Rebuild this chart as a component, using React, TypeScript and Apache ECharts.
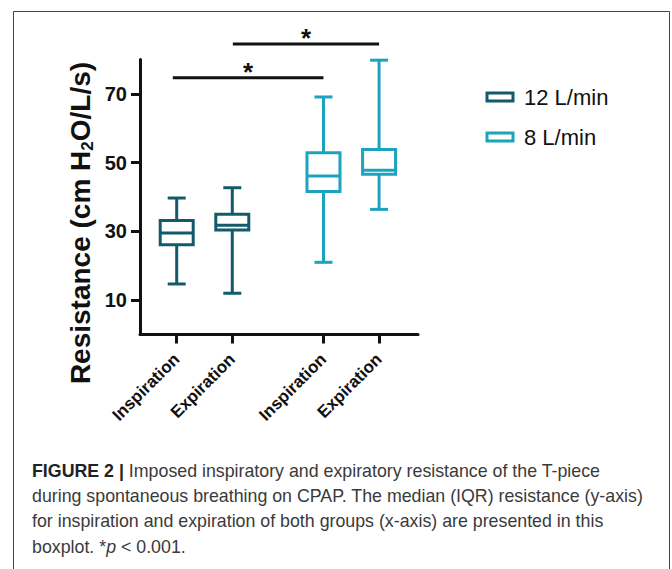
import React, { useEffect, useRef } from "react";
import * as echarts from "echarts";

// ---- data ----
const categories = ["Inspiration", "Expiration", "Inspiration", "Expiration"];
const groups = ["12 L/min", "8 L/min"];
// [min, Q1, median, Q3, max]
const stats12 = [
  [14.7, 26.1, 29.5, 33.2, 39.7],
  [12.0, 30.4, 31.8, 35.0, 42.7],
];
const stats8 = [
  [21.0, 41.6, 46.1, 52.9, 69.1],
  [36.4, 46.6, 47.8, 53.8, 79.8],
];
const yTicks = [10, 30, 50, 70];
// significance bars: [x from, x to, y level]
const sigBars = [
  [0.59, 3.3, 74.7],
  [1.67, 4.3, 84.5],
];
const sigLabel = "*";
const captionLines = [
  "{b|FIGURE 2 |} Imposed inspiratory and expiratory resistance of the T-piece",
  "during spontaneous breathing on CPAP. The median (IQR) resistance (y-axis)",
  "for inspiration and expiration of both groups (x-axis) are presented in this",
  "boxplot. *{i|p} < 0.001.",
];

// ---- layout / style ----
const xPos = [0.66, 1.66, 3.3, 4.3];
const colors = ["#135b6a", "#1ca4be"];
const FONT = "'Liberation Sans', Arial, Helvetica, sans-serif";

export default function App() {
  const ref = useRef<HTMLDivElement>(null);

  useEffect(() => {
    document.body.style.margin = "0";
    if (!ref.current) return;
    const chart = echarts.init(ref.current, null, { renderer: "svg" });

    const renderBox = (params: any, api: any) => {
      const x = api.value(0);
      const pMin = api.coord([x, api.value(1)]);
      const pQ1 = api.coord([x, api.value(2)]);
      const pMed = api.coord([x, api.value(3)]);
      const pQ3 = api.coord([x, api.value(4)]);
      const pMax = api.coord([x, api.value(5)]);
      const cx = pMed[0];
      const boxW = 33;
      const capW = 18;
      const color = api.visual("color");
      const st = { stroke: color, lineWidth: 3, fill: "none" };
      return {
        type: "group",
        children: [
          { type: "line", shape: { x1: cx, y1: pMax[1], x2: cx, y2: pQ3[1] }, style: st },
          { type: "line", shape: { x1: cx, y1: pQ1[1], x2: cx, y2: pMin[1] }, style: st },
          { type: "line", shape: { x1: cx - capW / 2, y1: pMax[1], x2: cx + capW / 2, y2: pMax[1] }, style: st },
          { type: "line", shape: { x1: cx - capW / 2, y1: pMin[1], x2: cx + capW / 2, y2: pMin[1] }, style: st },
          {
            type: "rect",
            shape: { x: cx - boxW / 2, y: pQ3[1], width: boxW, height: pQ1[1] - pQ3[1] },
            style: { stroke: color, lineWidth: 3, fill: "#fff" },
          },
          { type: "line", shape: { x1: cx - boxW / 2, y1: pMed[1], x2: cx + boxW / 2, y2: pMed[1] }, style: st },
        ],
      };
    };

    const renderSig = (params: any, api: any) => {
      const y = api.value(2);
      const p1 = api.coord([api.value(0), y]);
      const p2 = api.coord([api.value(1), y]);
      return {
        type: "group",
        children: [
          { type: "line", shape: { x1: p1[0], y1: p1[1], x2: p2[0], y2: p2[1] }, style: { stroke: "#111", lineWidth: 3 } },
          {
            type: "text",
            style: {
              text: sigLabel,
              x: (p1[0] + p2[0]) / 2,
              y: p1[1] - 6,
              fill: "#111",
              font: `bold 26px ${FONT}`,
              align: "center",
              verticalAlign: "middle",
              textAlign: "center",
              textVerticalAlign: "middle",
            },
          },
        ],
      };
    };

    const captionGraphics = captionLines.map((line, i) => ({
      type: "text",
      left: 32,
      top: 462 + i * 25.2,
      silent: true,
      style: {
        text: line,
        fill: "#3a3a3a",
        font: `17.8px ${FONT}`,
        rich: {
          b: { fontSize: 17.8, fontWeight: "bold", fill: "#222", fontFamily: FONT },
          i: { fontSize: 17.8, fontStyle: "italic", fill: "#3a3a3a", fontFamily: FONT },
        },
      },
    }));

    chart.setOption({
      animation: false,
      grid: { left: 140, right: 254, top: 59.5, bottom: 234.5, containLabel: false },
      legend: {
        data: groups.map((g, i) => ({
          name: g,
          icon: "rect",
          itemStyle: { color: "#fff", borderColor: colors[i], borderWidth: 3 },
        })),
        orient: "vertical",
        left: 480.5,
        top: 80,
        itemWidth: 26,
        itemHeight: 8,
        itemGap: 16,
        selectedMode: false,
        textStyle: { fontSize: 22, lineHeight: 24, color: "#111", fontFamily: FONT, padding: [0, 0, 0, 6] },
      },
      xAxis: {
        type: "value",
        min: 0,
        max: 5,
        splitLine: { show: false },
        axisLine: { show: true, onZero: false, lineStyle: { color: "#111", width: 3 } },
        axisTick: { show: true, customValues: xPos, length: 9, lineStyle: { color: "#111", width: 3 } },
        axisLabel: {
          customValues: xPos,
          formatter: (v: number) => {
            const idx = xPos.findIndex((p) => Math.abs(p - v) < 1e-6);
            return idx >= 0 ? categories[idx] : "";
          },
          rotate: 45,
          margin: 22,
          color: "#111",
          fontSize: 17,
          fontWeight: "bold",
          fontFamily: FONT,
        },
      },
      yAxis: {
        type: "value",
        min: 0,
        max: 80,
        splitLine: { show: false },
        axisLine: { show: true, lineStyle: { color: "#111", width: 3 } },
        axisTick: { show: true, customValues: yTicks, length: 9, lineStyle: { color: "#111", width: 3 } },
        axisLabel: {
          customValues: yTicks,
          margin: 13,
          color: "#111",
          fontSize: 20,
          fontWeight: "bold",
          fontFamily: FONT,
        },
      },
      graphic: [
        {
          type: "rect",
          silent: true,
          shape: { x: 13.5, y: 11.5, width: 656, height: 620 },
          style: { fill: "none", stroke: "#444", lineWidth: 1 },
          z: -10,
        },
        {
          type: "text",
          x: 80,
          y: 223,
          rotation: Math.PI / 2,
          silent: true,
          style: {
            text: "{a|Resistance (cm H}{s|2}{a|O/L/s)}",
            x: 0,
            y: 0,
            align: "center",
            verticalAlign: "middle",
            textAlign: "center",
            textVerticalAlign: "middle",
            rich: {
              a: { fontSize: 28, fontWeight: "bold", fontFamily: FONT, fill: "#111", lineHeight: 32 },
              s: { fontSize: 17, fontWeight: "bold", fontFamily: FONT, fill: "#111", lineHeight: 15, verticalAlign: "bottom" },
            },
          },
        },
        ...captionGraphics,
      ],
      series: [
        {
          type: "custom",
          name: groups[0],
          silent: true,
          itemStyle: { color: colors[0] },
          data: stats12.map((s, i) => [xPos[i], ...s]),
          encode: { x: 0, y: [1, 2, 3, 4, 5] },
          renderItem: renderBox,
        },
        {
          type: "custom",
          name: groups[1],
          silent: true,
          itemStyle: { color: colors[1] },
          data: stats8.map((s, i) => [xPos[i + 2], ...s]),
          encode: { x: 0, y: [1, 2, 3, 4, 5] },
          renderItem: renderBox,
        },
        {
          type: "custom",
          name: "significance",
          silent: true,
          clip: false,
          data: sigBars,
          encode: { x: [0, 1], y: 2 },
          renderItem: renderSig,
        },
      ],
    });

    return () => chart.dispose();
  }, []);

  return <div ref={ref} style={{ width: 672, height: 569 }} />;
}
